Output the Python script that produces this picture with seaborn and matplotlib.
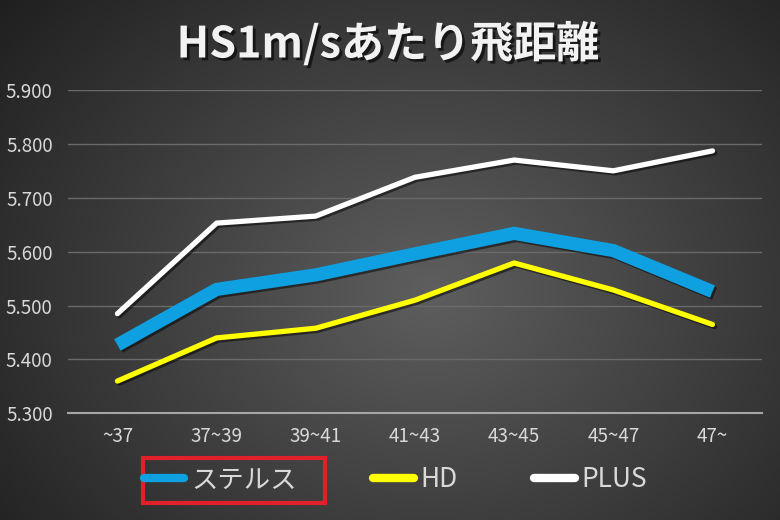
import numpy as np
import pandas as pd
import matplotlib
matplotlib.use('Agg')
import matplotlib.pyplot as plt
import matplotlib.patheffects as pe
from matplotlib.lines import Line2D
from matplotlib.patches import Rectangle
import seaborn as sns

# data
categories = ['~37', '37~39', '39~41', '41~43', '43~45', '45~47', '47~']
stealth = [5.427, 5.530, 5.557, 5.596, 5.634, 5.602, 5.526]
hd = [5.360, 5.440, 5.458, 5.510, 5.579, 5.529, 5.465]
plus = [5.485, 5.653, 5.666, 5.738, 5.770, 5.750, 5.787]

series_names = ['ステルス', 'HD', 'PLUS']
colors = {'ステルス': '#0ea0e0', 'HD': '#ffff00', 'PLUS': '#ffffff'}
widths = {'ステルス': 9.5, 'HD': 3.8, 'PLUS': 3.8}

df = pd.DataFrame({'cat': categories * 3,
                   'val': stealth + hd + plus,
                   'series': sum([[n] * len(categories) for n in series_names], [])})

sns.set_style('dark')
plt.rcParams['font.family'] = ['Noto Sans CJK JP', 'DejaVu Sans']

fig = plt.figure(figsize=(7.8, 5.2), dpi=100)
fig.patch.set_facecolor('#3a3a3a')

# radial grey gradient background
yy, xx = np.mgrid[0:520, 0:780]
r = np.sqrt(((xx - 430) / 520.0) ** 2 + ((yy - 290) / 420.0) ** 2)
g = np.clip(0.37 - 0.23 * r, 0.1, 1.0)
img = np.dstack([g, g, g])
fig.figimage(img, 0, 0, zorder=-10)

ax = fig.add_axes([0.087, 0.205, 0.89, 0.622])
ax.set_facecolor('none')

shadow = [pe.SimpleLineShadow(offset=(1.5, -1.5), shadow_color='black', alpha=0.5), pe.Normal()]
for name in series_names:
    sub = df[df['series'] == name]
    sns.lineplot(data=sub, x='cat', y='val', ax=ax, color=colors[name],
                 linewidth=widths[name], sort=False, legend=False,
                 path_effects=shadow, solid_capstyle='butt' if name == 'ステルス' else 'round',
                 solid_joinstyle='miter' if name == 'ステルス' else 'round')

ax.set_ylim(5.3, 5.9)
ax.set_xlim(-0.5, len(categories) - 0.5)
ax.set_yticks(np.arange(5.3, 5.901, 0.1))
ax.set_yticklabels([f'{v:.3f}' for v in np.arange(5.3, 5.901, 0.1)])
ax.set_xlabel('')
ax.set_ylabel('')
ax.grid(axis='y', color='#6a6a6a', linewidth=1)
ax.grid(axis='x', visible=False)
for s in ['top', 'right', 'left']:
    ax.spines[s].set_visible(False)
ax.spines['bottom'].set_color('#a6a6a6')
ax.spines['bottom'].set_linewidth(1.5)
ax.tick_params(axis='both', colors='#d9d9d9', labelsize=13.5, length=0)
ax.tick_params(axis='y', pad=11)
ax.tick_params(axis='x', pad=9)

fig.text(0.497, 0.915, 'HS1m/sあたり飛距離', ha='center', va='center',
         fontsize=31, fontweight='bold', color='#f2f2f2',
         path_effects=[pe.withSimplePatchShadow(offset=(2, -2), shadow_rgbFace='black', alpha=0.6)])

handles = [Line2D([0], [0], color=colors[n], linewidth=6, solid_capstyle='round') for n in series_names]
leg = fig.legend(handles, series_names, loc='center', bbox_to_anchor=(0.507, 0.077), ncol=3,
                 frameon=False, fontsize=19, handlelength=1.55, handletextpad=0.25,
                 columnspacing=2.9)
for t in leg.get_texts():
    t.set_color('#d9d9d9')

fig.patches.append(Rectangle((143 / 780, 1 - 503 / 520), 182 / 780, 45 / 520,
                             transform=fig.transFigure, fill=False,
                             edgecolor='#e0202a', linewidth=3))

fig.savefig('out.png', dpi=100)
